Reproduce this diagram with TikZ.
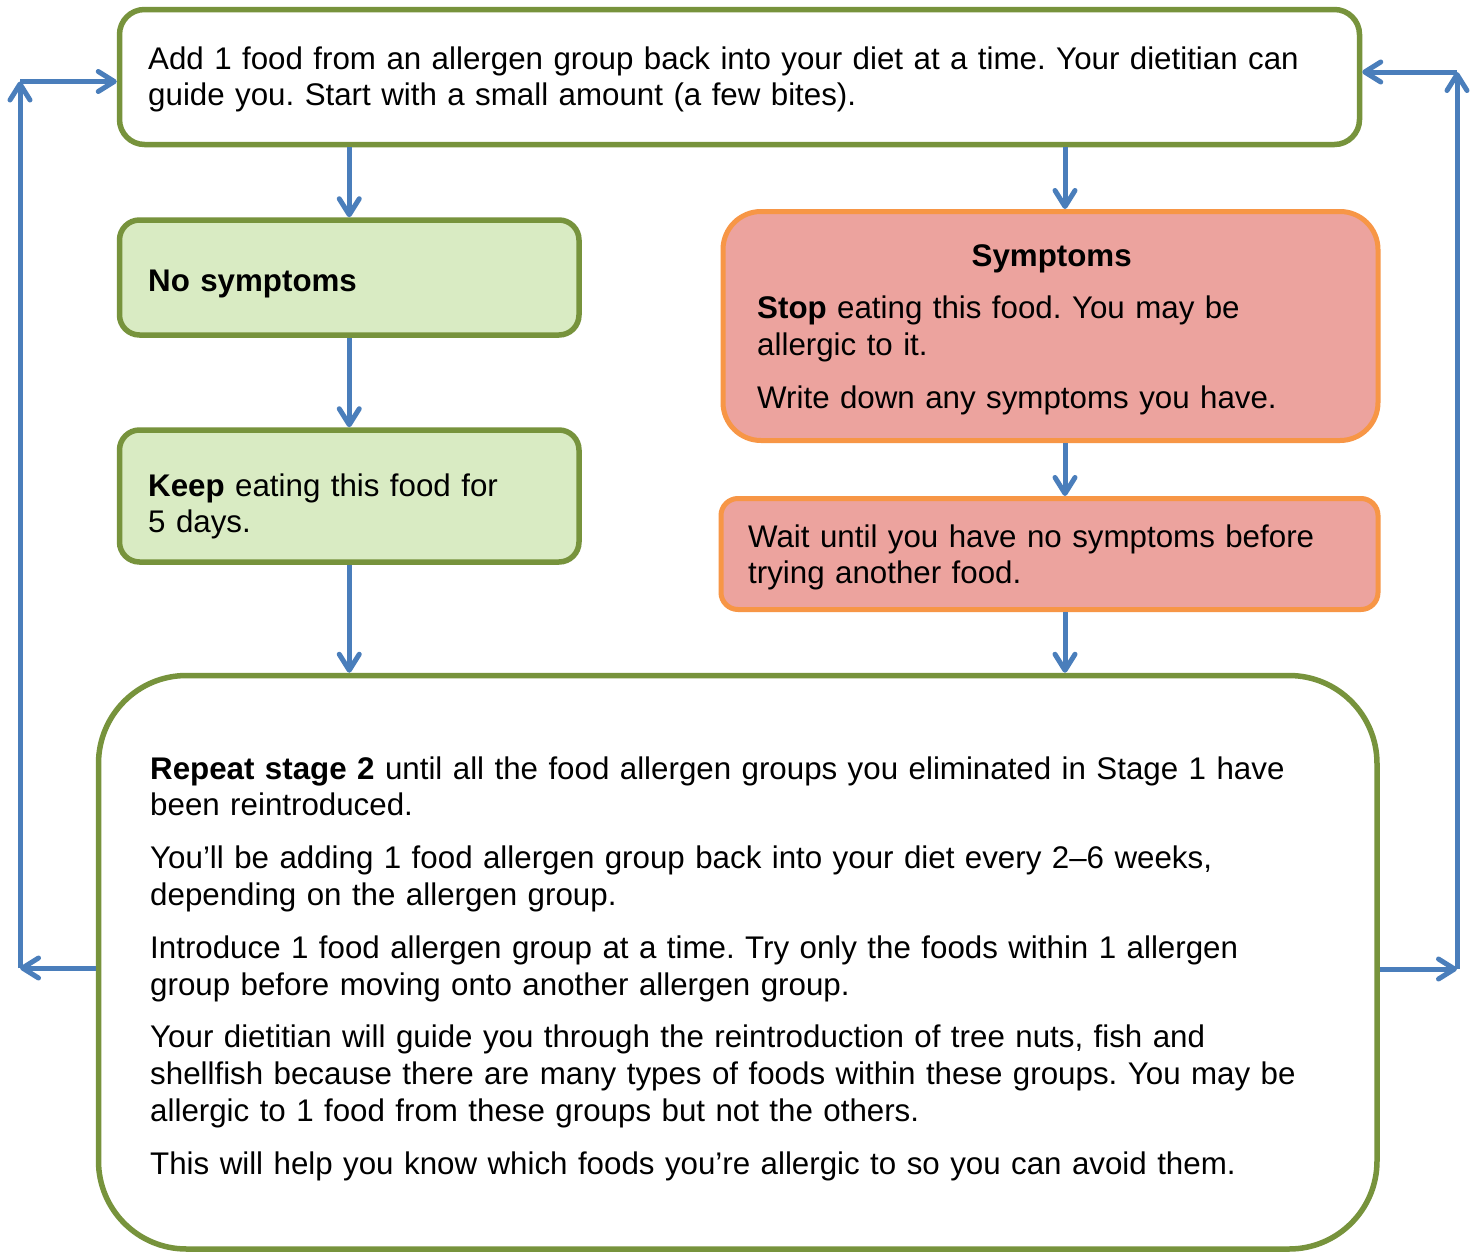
\documentclass[tikz,border=0pt]{standalone}
\usepackage{fontspec}
\setmainfont{Liberation Sans}
\usetikzlibrary{arrows.meta}
\definecolor{gborder}{HTML}{77933C}
\definecolor{gfill}{HTML}{D9EBC3}
\definecolor{oborder}{HTML}{F79646}
\definecolor{ofill}{HTML}{ECA39E}
\definecolor{arrblue}{HTML}{4A7EBB}
\begin{document}
\frenchspacing
\begin{tikzpicture}[x=1pt,y=-1pt,
  gbox/.style={draw=gborder, line width=5.5pt, inner sep=0pt},
  obox/.style={draw=oborder, fill=ofill, line width=5pt, inner sep=0pt},
  arr/.style={draw=arrblue, line width=5pt, -{Straight Barb[length=16pt,width=20pt,line width=5pt,line cap=round,line join=round]}},
  txt/.style={anchor=base west, inner sep=0pt, align=left, text width=#1,
    font=\fontsize{31.3}{36.8}\selectfont}]
\fill[white] (0,0) rectangle (1476,1253);
\useasboundingbox (0,0) rectangle (1476,1253);
% boxes
\node[gbox, rounded corners=25pt, minimum width=1240pt, minimum height=135pt] (top) at (739.5,77) {};
\node[gbox, fill=gfill, rounded corners=20pt, minimum width=459.5pt, minimum height=115pt] (nosym) at (349.25,277.5) {};
\node[gbox, fill=gfill, rounded corners=20pt, minimum width=459.5pt, minimum height=132pt] (keep) at (349.25,496) {};
\node[obox, rounded corners=38pt, minimum width=655pt, minimum height=229pt] (sym) at (1050.5,326) {};
\node[obox, rounded corners=17pt, minimum width=657pt, minimum height=111pt] (wait) at (1049.5,554) {};
\node[gbox, rounded corners=88pt, minimum width=1278.5pt, minimum height=573.5pt] (bottom) at (737.75,962.25) {};
% texts
\node[txt=1200pt] (toptext) at (148,69) {Add 1 food from an allergen group back into your diet at a time. Your dietitian can\\guide you. Start with a small amount (a few bites).};
\node[txt=430pt] (nosymtext) at (148,291) {\textbf{No symptoms}};
\node[txt=430pt] (keeptext) at (148,496) {\textbf{Keep} eating this food for\\5 days.};
\node[txt=610pt] (symtext) at (757,266) {\makebox[589pt][c]{\textbf{Symptoms}}\\[16pt]\textbf{Stop} eating this food. You may be\\allergic to it.\\[16pt]Write down any symptoms you have.};
\node[txt=640pt] (waittext) at (748,547) {Wait until you have no symptoms before\\trying another food.};
\node[txt=1200pt] (bottext) at (150,779) {\textbf{Repeat stage 2} until all the food allergen groups you eliminated in Stage 1 have\\been reintroduced.\\[16pt]You’ll be adding 1 food allergen group back into your diet every 2–6 weeks,\\depending on the allergen group.\\[16pt]Introduce 1 food allergen group at a time. Try only the foods within 1 allergen\\group before moving onto another allergen group.\\[16pt]Your dietitian will guide you through the reintroduction of tree nuts, fish and\\shellfish because there are many types of foods within these groups. You may be\\allergic to 1 food from these groups but not the others.\\[16pt]This will help you know which foods you’re allergic to so you can avoid them.};
% connectors
\coordinate (rx) at (1065,0);
\draw[arr] (nosym.north |- top.south) -- (nosym.north);
\draw[arr] (rx |- top.south) -- (rx |- sym.north);
\draw[arr] (nosym.south) -- (keep.north);
\draw[arr] (keep.south) -- (keep.south |- bottom.north);
\draw[arr] (rx |- sym.south) -- (rx |- wait.north);
\draw[arr] (rx |- wait.south) -- (rx |- bottom.north);
\coordinate (L1) at (20,968);
\coordinate (L2) at (20,81.5);
\draw[arr] (bottom.west |- L1) -- (L1);
\draw[arr] (L1) -- (L2);
\draw[arr] (L2) -- (top.west |- L2);
\coordinate (R1) at (1457,969);
\coordinate (R2) at (1457,72);
\draw[arr] (bottom.east |- R1) -- (R1);
\draw[arr] (R1) -- (R2);
\draw[arr] (R2) -- (top.east |- R2);
\end{tikzpicture}
\end{document}
